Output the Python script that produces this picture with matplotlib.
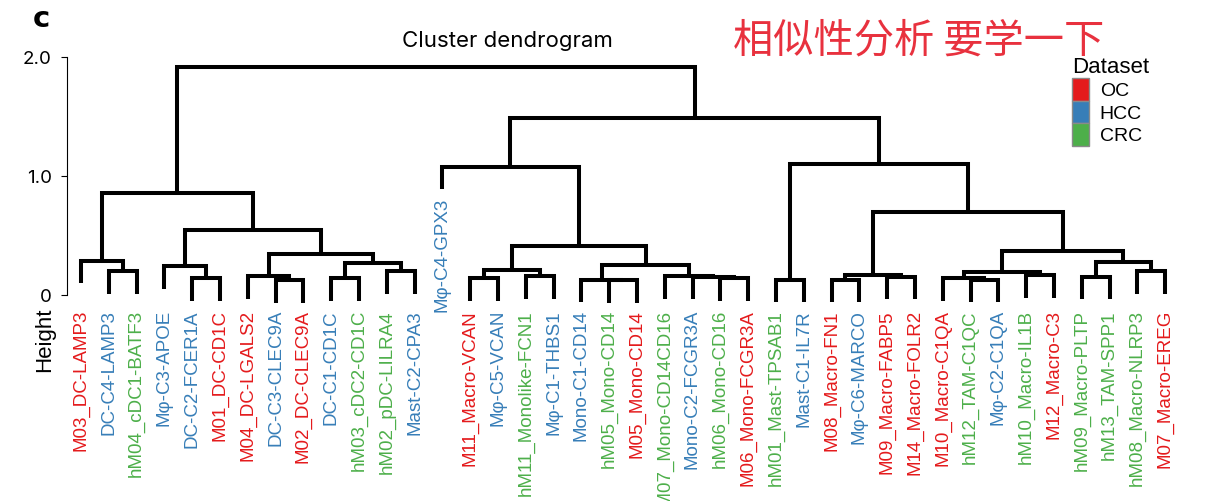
import matplotlib
matplotlib.use("Agg")
import matplotlib.pyplot as plt
from matplotlib.patches import Patch

# leaves in plotted order
leaf_labels = [
    "M03_DC-LAMP3", "DC-C4-LAMP3", "hM04_cDC1-BATF3", "Mφ-C3-APOE",
    "DC-C2-FCER1A", "M01_DC-CD1C", "M04_DC-LGALS2", "DC-C3-CLEC9A",
    "M02_DC-CLEC9A", "DC-C1-CD1C", "hM03_cDC2-CD1C", "hM02_pDC-LILRA4",
    "Mast-C2-CPA3", "Mφ-C4-GPX3", "M11_Macro-VCAN", "Mφ-C5-VCAN",
    "hM11_Monolike-FCN1", "Mφ-C1-THBS1", "Mono-C1-CD14", "hM05_Mono-CD14",
    "M05_Mono-CD14", "hM07_Mono-CD14CD16", "Mono-C2-FCGR3A", "hM06_Mono-CD16",
    "M06_Mono-FCGR3A", "hM01_Mast-TPSAB1", "Mast-C1-IL7R", "M08_Macro-FN1",
    "Mφ-C6-MARCO", "M09_Macro-FABP5", "M14_Macro-FOLR2", "M10_Macro-C1QA",
    "hM12_TAM-C1QC", "Mφ-C2-C1QA", "hM10_Macro-IL1B", "M12_Macro-C3",
    "hM09_Macro-PLTP", "hM13_TAM-SPP1", "hM08_Macro-NLRP3", "M07_Macro-EREG",
]
leaf_dataset = [
    "OC", "HCC", "CRC", "HCC", "HCC", "OC", "OC", "HCC", "OC", "HCC",
    "CRC", "CRC", "HCC", "HCC", "OC", "HCC", "CRC", "HCC", "HCC", "CRC",
    "OC", "CRC", "HCC", "CRC", "OC", "CRC", "HCC", "OC", "HCC", "OC",
    "OC", "OC", "CRC", "HCC", "CRC", "OC", "CRC", "CRC", "CRC", "OC",
]
datasets = ["OC", "HCC", "CRC"]
dataset_colors = {"OC": "#E41A1C", "HCC": "#377EB8", "CRC": "#4DAF4A"}

# R-style merge table: negative = leaf (1-based, plotted order), positive = earlier merge row
merge_a = [-2, -1, -5, -4, -8, -7, -10, -12, 7, 6, 4, 2,
           -15, -17, 13, -20, -19, -24, -23, -22, 17, 15, -14,
           -26, -28, -30, 25, -33, -32, -35, 29, -37, -39, 32, 31, 27, 24, 23, 12]
merge_b = [-3, 1, -6, 3, -9, 5, -11, -13, 8, 9, 10, 11,
           -16, -18, 14, -21, 16, -25, 18, 19, 20, 21, 22,
           -27, -29, -31, 26, -34, 28, -36, 30, -38, -40, 33, 34, 35, 36, 37, 38]
merge_h = [0.20, 0.29, 0.145, 0.24, 0.125, 0.16, 0.145, 0.20, 0.27, 0.345, 0.55, 0.86,
           0.14, 0.16, 0.21, 0.125, 0.13, 0.14, 0.155, 0.16, 0.25, 0.41, 1.08,
           0.13, 0.13, 0.155, 0.17, 0.13, 0.14, 0.17, 0.19, 0.155, 0.205, 0.28, 0.37,
           0.70, 1.10, 1.49, 1.92]

hang = 0.1 * max(merge_h)
n = len(leaf_labels)

fig = plt.figure(figsize=(12.1, 5.01), dpi=100)
W, H = 1210, 501
ax = fig.add_axes([67 / W, (H - 301) / H, 1112 / W, 244 / H])
ax.set_xlim(0.5, n + 0.5)
ax.set_ylim(-0.05, 2.0)

node_x = []
leaf_end = [0.0] * n
for a, b, hgt in zip(merge_a, merge_b, merge_h):
    pts = []
    for c in (a, b):
        if c < 0:
            x, y0 = -c, hgt - hang
            leaf_end[-c - 1] = y0
        else:
            x, y0 = node_x[c - 1], merge_h[c - 1]
        pts.append((x, y0))
    (xa, ya), (xb, yb) = pts
    ax.plot([xa, xa, xb, xb], [ya, hgt, hgt, yb], color="black", lw=2.9,
            solid_joinstyle="miter", solid_capstyle="butt", clip_on=False)
    node_x.append((xa + xb) / 2)

# leaf labels: at the bottom, except leaves that hang from a high merge
for i, (lab, ds) in enumerate(zip(leaf_labels, leaf_dataset)):
    y = leaf_end[i] - 0.07 if leaf_end[i] > 0.5 else -0.126
    ax.text(i + 1, y, lab, rotation=90, ha="center", va="top", fontsize=13.5,
            color=dataset_colors[ds], family="Liberation Sans", clip_on=False)

for s in ["top", "right", "bottom"]:
    ax.spines[s].set_visible(False)
ax.spines["left"].set_bounds(0, 2)
ax.spines["left"].set_linewidth(0.8)
ax.set_xticks([])
ax.set_yticks([0, 1, 2], ["0", "1.0", "2.0"])
ax.tick_params(axis="y", direction="out", length=4, width=0.8, pad=7, labelsize=13.5)
for t in ax.get_yticklabels():
    t.set_family("Inter")

fig.text(45 / W, 1 - 340 / H, "Height", rotation=90, ha="center", va="center",
         fontsize=16, family="Liberation Sans")
fig.text(507 / W, 1 - 41 / H, "Cluster dendrogram", ha="center", va="center",
         fontsize=16, family="Inter")
fig.text(33 / W, 1 - 19 / H, "c", ha="left", va="center", fontsize=21,
         fontweight="heavy", family="DejaVu Sans")
fig.text(733 / W, 1 - 41 / H, "相似性分析 要学一下", ha="left", va="center",
         fontsize=29, color="#E8313E", family=["Noto Sans CJK SC", "DejaVu Sans"],
         fontweight="light")

handles = [Patch(facecolor=dataset_colors[d], edgecolor="#8a8a8a", lw=1) for d in datasets]
ax.legend(handles, datasets, title="Dataset", loc="upper left",
          bbox_to_anchor=(1072 / W, 1 - 57 / H), bbox_transform=fig.transFigure,
          frameon=False, borderpad=0, borderaxespad=0, labelspacing=0,
          handlelength=0.875, handleheight=1.42, handletextpad=0.55,
          alignment="left", prop={"family": "Liberation Sans", "size": 14},
          title_fontproperties={"family": "Liberation Sans", "size": 16})

fig.savefig("out.png", dpi=100)
